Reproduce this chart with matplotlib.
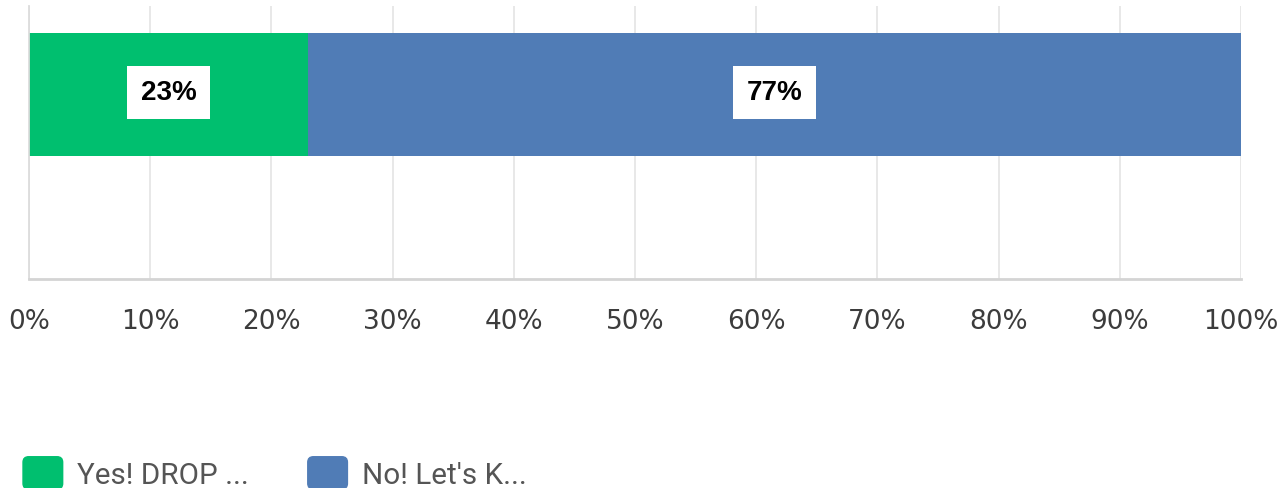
import matplotlib.pyplot as plt
from matplotlib.patches import Patch, FancyBboxPatch
from matplotlib.legend_handler import HandlerPatch
from matplotlib.ticker import PercentFormatter

answers = ['Yes! DROP ...', "No! Let's K..."]
shares = [23, 77]
colors = ['#00bf6f', '#507cb6']
ticks = list(range(0, 101, 10))

fig = plt.figure(figsize=(12.79, 4.89), dpi=100)
ax = fig.add_axes([0.0227, 0.4274, 0.9476, 0.5583])

# stacked horizontal bar, one segment per answer
left = 0
for answer, share, color in zip(answers, shares, colors):
    ax.barh(0, share, left=left, height=0.6, color=color, label=answer, zorder=2)
    ax.text(left + share / 2, 0.01, f'{share}%', ha='center', va='center',
            fontsize=20, fontweight='bold', family='Liberation Sans', color='black',
            bbox=dict(boxstyle='square,pad=0.48', fc='white', ec='none'), zorder=3)
    left += share

ax.set_xlim(0, 100)
ax.set_ylim(-0.9, 0.432)
ax.set_xticks(ticks)
ax.xaxis.set_major_formatter(PercentFormatter(decimals=0))
ax.set_yticks([])
ax.grid(axis='x', color='#e6e6e6', lw=1.3, zorder=0)
ax.tick_params(axis='x', length=0, pad=21, labelsize=19, labelcolor='#3c3c3c')
for side in ['top', 'right']:
    ax.spines[side].set_visible(False)
ax.spines['left'].set_color('#dcdcdc')
ax.spines['left'].set_linewidth(1.3)
ax.spines['bottom'].set_color('#d4d4d4')
ax.spines['bottom'].set_linewidth(2)


# legend swatches with rounded corners
def rounded(legend, orig_handle, xdescent, ydescent, width, height, fontsize):
    return FancyBboxPatch((-xdescent, -ydescent), width, height,
                          boxstyle='round,pad=0,rounding_size=4')


handles = [Patch(color=c, label=a) for a, c in zip(answers, colors)]
fig.legend(handles=handles, loc='lower left', bbox_to_anchor=(0.018, -0.002),
           ncol=2, frameon=False, prop={'family': 'Roboto', 'size': 21.3},
           labelcolor='#555555', handlelength=1.34, handleheight=1.3,
           handletextpad=0.48, columnspacing=2.0, borderpad=0, borderaxespad=0,
           handler_map={Patch: HandlerPatch(patch_func=rounded)})

fig.savefig('out.png', dpi=100)
